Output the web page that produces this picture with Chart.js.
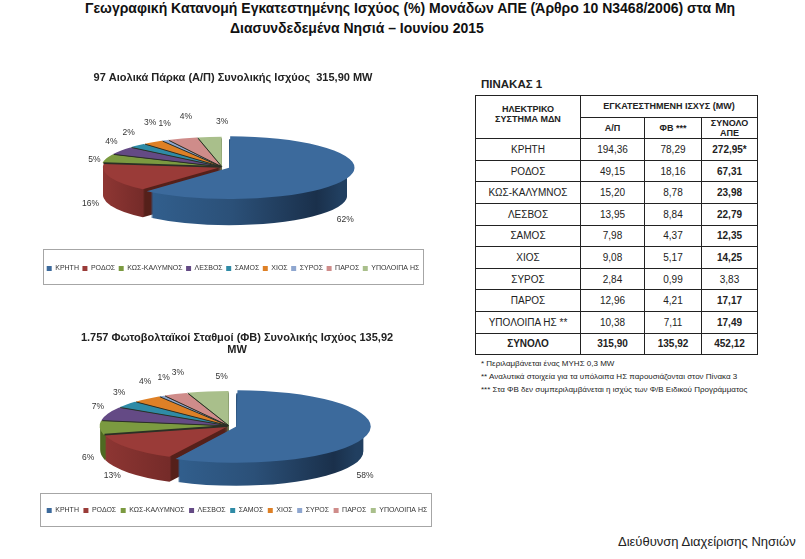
<!DOCTYPE html>
<html lang="el"><head><meta charset="utf-8">
<style>
html,body{margin:0;padding:0;background:#fff;width:805px;height:559px;overflow:hidden;font-family:"Liberation Sans",Arial,sans-serif;color:#111}
body{filter:blur(.3px)}
.abs{position:absolute}
#title{font-weight:bold;font-size:14px;line-height:20px;top:-2px;left:0;width:805px;white-space:nowrap}
.lbox{position:absolute;border:1px solid #a6a6a6;box-sizing:border-box;background:#fff}
canvas{position:absolute}
table{border-collapse:collapse;table-layout:fixed;position:absolute;left:475px;top:95px;width:282px;font-size:10px;color:#222}
td{border:1px solid #222;text-align:center;padding:0;height:20.6px;overflow:hidden}
td.b{font-weight:bold}
.h{font-size:9px;font-weight:bold;line-height:10px}
.fn{position:absolute;left:481px;font-size:8px;line-height:9px;color:#222;white-space:nowrap}
</style></head><body>
<div id="title" class="abs"><span style="position:absolute;left:85px">Γεωγραφική Κατανομή Εγκατεστημένης Ισχύος (%) Μονάδων ΑΠΕ (Άρθρο 10 Ν3468/2006) στα Μη</span><span style="position:absolute;left:230px;top:20px">Διασυνδεδεμένα Νησιά – Ιουνίου 2015</span></div>
<div class="lbox" style="left:43px;top:249px;width:381px;height:36px"></div>
<div class="lbox" style="left:40px;top:493px;width:392px;height:34px"></div>
<canvas id="c1" width="420" height="222" style="left:23px;top:60px;width:420px;height:222px"></canvas>
<canvas id="c2" width="420" height="204" style="left:27px;top:320px;width:420px;height:204px"></canvas>
<div class="abs" style="left:481px;top:78px;font-size:11.5px;font-weight:bold;color:#222">ΠΙΝΑΚΑΣ 1</div>
<table id="t"></table>
<div class="fn" style="top:358.5px">* Περιλαμβάνεται ένας ΜΥΗΣ 0,3 MW</div>
<div class="fn" style="top:371.5px">** Αναλυτικά στοιχεία για τα υπόλοιπα ΗΣ παρουσιάζονται στον Πίνακα 3</div>
<div class="fn" style="top:384.5px">*** Στα ΦΒ δεν συμπεριλαμβάνεται η ισχύς των Φ/Β Ειδικού Προγράμματος</div>
<div class="abs" style="left:618px;top:534px;font-size:13px;color:#222;white-space:nowrap">Διεύθυνση Διαχείρισης Νησιών</div>
<script src="https://cdn.jsdelivr.net/npm/chart.js@4"></script>
<script>
const categories=["ΚΡΗΤΗ","ΡΟΔΟΣ","ΚΩΣ-ΚΑΛΥΜΝΟΣ","ΛΕΣΒΟΣ","ΣΑΜΟΣ","ΧΙΟΣ","ΣΥΡΟΣ","ΠΑΡΟΣ","ΥΠΟΛΟΙΠΑ ΗΣ"];
const windMW=[194.36,49.15,15.20,13.95,7.98,9.08,2.84,12.96,10.38];
const solarMW=[78.29,18.16,8.78,8.84,4.37,5.17,0.99,4.21,7.11];
const totalMW=["272,95*","67,31","23,98","22,79","12,35","14,25","3,83","17,17","17,49"];
const windPct=[62,16,5,4,2,3,1,4,3];
const solarPct=[58,13,6,7,3,4,1,3,5];
const windTitle="97 Αιολικά Πάρκα (Α/Π) Συνολικής Ισχύος  315,90 MW";
const solarTitle=["1.757 Φωτοβολταϊκοί Σταθμοί (ΦΒ) Συνολικής Ισχύος 135,92","MW"];

const topColors=["#3c6a9c","#9a3b38","#7b9a40","#644a85","#2f8ba6","#de8026","#8ea6cf","#cf8c8a","#a9bf8b"];
const wallColors=["#22405f","#7a2c2a","#4e6a22","#3a2a50","#1f5566","#8c4f14","#5c6e8c","#8a5a58","#5e6e48"];
const fmt=v=>v.toFixed(2).replace(".",",");

const rows=[];
rows.push('<colgroup><col style="width:105px"><col style="width:64px"><col style="width:57px"><col style="width:56px"></colgroup>');
rows.push('<tr><td rowspan="2" class="h" style="vertical-align:top;padding-top:8px">ΗΛΕΚΤΡΙΚΟ<br>ΣΥΣΤΗΜΑ ΜΔΝ</td><td colspan="3" class="h">ΕΓΚΑΤΕΣΤΗΜΕΝΗ ΙΣΧΥΣ (MW)</td></tr>');
rows.push('<tr><td class="h">Α/Π</td><td class="h">ΦΒ ***</td><td class="h">ΣΥΝΟΛΟ<br>ΑΠΕ</td></tr>');
categories.forEach((c,i)=>{rows.push(`<tr><td>${c}${i===8?" **":""}</td><td>${fmt(windMW[i])}</td><td>${fmt(solarMW[i])}</td><td class="${i===6?"":"b"}">${totalMW[i]}</td></tr>`)});
rows.push('<tr><td class="b">ΣΥΝΟΛΟ</td><td class="b">315,90</td><td class="b">135,92</td><td class="b">452,12</td></tr>');
document.getElementById("t").innerHTML=rows.join("");

const pie3d={
 id:"pie3d",
 afterLayout(chart,args,o){
  const a=chart.chartArea,w=a.right-a.left,h=a.bottom-a.top;
  a.left=o.center[0]-w/2;a.right=o.center[0]+w/2;a.top=o.center[1]-h/2;a.bottom=o.center[1]+h/2;
 },
 beforeDatasetDraw(chart,args,o){
  const ctx=chart.ctx, arcs=chart.getDatasetMeta(0).data, cy=arcs[0].y;
  ctx.save();
  ctx.translate(0,cy);ctx.scale(1,o.k);ctx.translate(0,-cy);
  const cx=arcs[0].x,R=arcs[0].outerRadius;
  const cornerX=cx+Math.cos(arcs[1].startAngle)*R;
  const blue=ctx.createLinearGradient(cornerX,0,cx+R,0);
  blue.addColorStop(0,"#32608f");blue.addColorStop(.45,"#2b5078");blue.addColorStop(.88,"#1a304b");blue.addColorStop(1,"#213f60");
  const span=cornerX+16-(cx-R);
  const red=ctx.createLinearGradient(cx-R,0,cornerX+16,0);
  red.addColorStop(0,"#8e3633");red.addColorStop((span-17)/span,"#752b29");red.addColorStop((span-15)/span,"#55201a");red.addColorStop(1,"#55201a");
  for(let d=o.depth;d>=1;d--){
   arcs.forEach((a,i)=>{
    const off=o.offsets[i]/4,mid=(a.startAngle+a.endAngle)/2,
      x=a.x+Math.cos(mid)*off,y=a.y+Math.sin(mid)*off+d/o.k;
    ctx.beginPath();ctx.moveTo(x,y);ctx.arc(x,y,a.outerRadius,a.startAngle,a.endAngle);ctx.closePath();
    ctx.fillStyle=i===0?blue:i===1?red:wallColors[i];ctx.fill();
   });
  }
 },
 afterDatasetDraw(chart,args,o){
  const ctx=chart.ctx,arcs=chart.getDatasetMeta(0).data;
  ctx.restore();
  ctx.save();ctx.strokeStyle="#2b2f25";
  arcs.forEach((a,i)=>{
   if(i<2)return;
   const off=o.offsets[i]/4,mid=(a.startAngle+a.endAngle)/2,
     x=a.x+Math.cos(mid)*off,y=a.y+Math.sin(mid)*off*o.k,R=a.outerRadius;
   ctx.lineWidth=i===2?1.8:1;
   ctx.beginPath();ctx.moveTo(x,y);ctx.lineTo(x+Math.cos(a.startAngle)*R,y+Math.sin(a.startAngle)*R*o.k);ctx.stroke();
  });
  ctx.restore();
 },
 afterDatasetsDraw(chart,args,o){
  const ctx=chart.ctx,arcs=chart.getDatasetMeta(0).data;
  ctx.save();ctx.font='8.5px "Liberation Sans",Arial,sans-serif';ctx.fillStyle="#333";ctx.textAlign="center";ctx.textBaseline="middle";
  arcs.forEach((a,i)=>{
   const mid=(a.startAngle+a.endAngle)/2,rl=a.outerRadius+o.gap,s=Math.sin(mid);
   const x=a.x+Math.cos(mid)*rl+o.nudge[i][0];
   const y=a.y+s*rl*o.k+(s>0?o.depth:0)+o.nudge[i][1];
   ctx.fillText(o.pct[i]+"%",x,y);
  });
  ctx.restore();
 }
};
function make(id,values,title,pct,offsets,R,center,nudge,k,depth,legendPad){
 return new Chart(document.getElementById(id),{
  type:"pie",
  data:{labels:categories,datasets:[{data:values,backgroundColor:topColors,borderWidth:0,offset:offsets,clip:false}]},
  plugins:[pie3d],
  options:{responsive:false,animation:false,radius:R,
   plugins:{
    tooltip:{enabled:false},
    title:{display:true,text:title,color:"#222",font:{family:'"Liberation Sans",Arial,sans-serif',size:11,weight:"bold",lineHeight:1.1},padding:{top:11.5,bottom:0}},
    legend:{position:"bottom",labels:{boxWidth:5,boxHeight:5,padding:legendPad,color:"#333",font:{family:'"Liberation Sans",Arial,sans-serif',size:7}}},
    pie3d:{k,depth,offsets,pct,gap:16,nudge,center}
   }}
 });
}
const windNudge=[[-2,13],[-6,-3],[1,2],[2,-7],[1,-11],[5,-17],[6,-14],[8,-19],[14,-12]];
const solarNudge=[[-3,16],[-5,1],[2,5],[3,-5.5],[3,-10],[7,-15],[9,-15],[8,-18],[16,-11]];
make("c1",windMW,windTitle,windPct,[30,4,6,6,6,6,6,6,6],118,[199,107],windNudge,.25,28,3.5);
make("c2",solarMW,solarTitle,solarPct,[30,6,6,6,6,6,6,6,6],127,[202,106],solarNudge,.27,25,4.5);
</script></body></html>
